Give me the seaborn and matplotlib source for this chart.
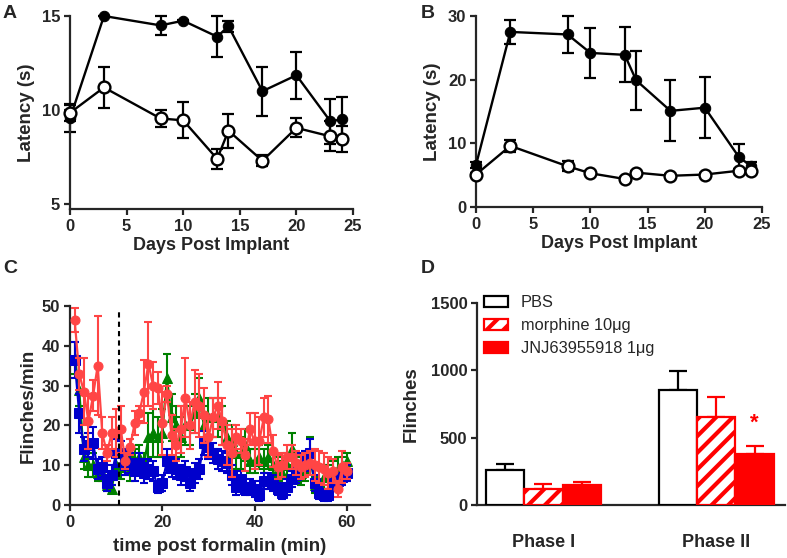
import numpy as np
import pandas as pd
import matplotlib
matplotlib.use("Agg")
import matplotlib.pyplot as plt
from matplotlib.patches import Patch
import seaborn as sns

# ---------------- data ----------------
days = [0, 3, 8, 10, 13, 14, 17, 20, 23, 24]

a_filled = [9.55, 15.0, 14.5, 14.75, 13.9, 14.45, 11.0, 11.85, 9.4, 9.5]
a_filled_sem = [0.7, 0.0, 0.5, 0.05, 1.1, 0.3, 1.3, 1.25, 1.2, 1.2]
a_open = [9.85, 11.2, 9.55, 9.45, 7.4, 8.9, 7.3, 9.05, 8.6, 8.45]
a_open_sem = [0.45, 1.1, 0.45, 0.95, 0.55, 0.9, 0.3, 0.5, 0.8, 0.7]

b_filled = [6.6, 27.5, 27.1, 24.2, 23.9, 19.9, 15.1, 15.6, 7.8, 6.5]
b_filled_sem = [0.5, 1.9, 2.9, 3.9, 4.3, 4.6, 4.8, 4.75, 2.1, 0.5]
b_open = [5.1, 9.6, 6.4, 5.3, 4.4, 5.4, 4.9, 5.1, 5.7, 5.6]
b_open_sem = [0.3, 0.9, 0.8, 0.3, 0.3, 0.3, 0.3, 0.3, 0.3, 0.3]

minutes = list(range(1, 61))
c_red = [46.5, 33, 28.5, 21, 27.5, 35, 18, 13, 18, 18,
         19, 11, 14.5, 20.5, 23, 28.5, 35.5, 30, 29.5, 20.5,
         28, 17.5, 15, 19, 27, 20, 26, 25, 22.5, 17,
         22, 25, 21, 15, 13, 17, 16, 12.5, 19, 16,
         16, 22, 21.5, 13.5, 9.5, 10, 12, 12, 10.5, 9.5,
         10, 10.5, 10, 9.5, 9, 8, 8.5, 4, 9.5, 8.5]
c_red_sem = [3, 4, 8.5, 7, 4, 12.5, 4, 2, 4, 6,
             6, 2, 2, 3, 2, 8, 10.5, 6, 4, 8,
             2, 5, 4, 6, 10, 6, 8, 8, 7, 5,
             5, 6, 6, 5, 6, 3, 3, 4, 4, 7,
             6, 5, 6, 4, 3, 3, 3, 3, 3, 3,
             3, 3, 4, 4, 4, 4, 3, 2, 4, 2]
c_blue = [36.5, 23, 14, 15, 15.5, 9, 9.5, 5.5, 7.5, 13,
          13, 10, 10.5, 8.5, 10.5, 8, 9, 8.5, 4.5, 5.5,
          11, 9.5, 9, 7.5, 8.5, 5.5, 8, 9, 15.5, 14.5,
          13, 11.5, 11, 10.5, 7.5, 4.5, 6.5, 4, 4.5, 4,
          2.5, 6, 6, 5.5, 4, 3, 4.5, 6.5, 7.5, 10,
          11, 13, 5.5, 3, 2.5, 2.5, 5.5, 6, 7, 8]
c_blue_sem = [4.5, 5, 3, 3, 4, 2.5, 2.5, 2, 2.5, 3.5,
              3, 2.5, 2.5, 2.5, 2.5, 2.5, 2.5, 2.5, 1.5, 2,
              3, 2.5, 2.5, 2.5, 2.5, 2, 2.5, 2.5, 3, 3,
              2.5, 2.5, 2.5, 2.5, 2.5, 2, 2, 1.5, 2, 2,
              1.5, 2, 2, 2, 1.5, 1.5, 2, 2, 2, 3,
              2.5, 3.5, 2, 1.5, 1.5, 1.5, 2, 2, 2, 2]
c_green = [37, 29, 12, 10, 10, 8, 8, 5, 4, 10,
           9.5, 10.5, 9, 11, 12, 10, 17, 18, 17, 18,
           32, 22, 20, 17, 20, 20, 23, 27, 20, 22,
           22, 22, 20, 17, 16, 13, 13, 15, 11, 11,
           12, 11, 12, 10, 9, 8, 10, 14, 9, 8,
           9, 13, 5, 4, 7, 7, 8, 9, 10, 11]
c_green_sem = [4, 4, 3, 3, 3, 2, 2, 1.5, 1, 3,
               3, 3, 3, 3, 3, 3, 6, 6, 5, 6,
               6, 6, 5, 5, 5, 5, 5, 5, 5, 5,
               5, 5, 5, 4, 4, 4, 4, 4, 3, 3,
               3, 3, 3, 3, 3, 3, 3, 4, 3, 3,
               3, 4, 2, 2, 3, 3, 3, 3, 2, 2]

phases = ["Phase I", "Phase II"]
treatments = ["PBS", "morphine 10\u03bcg", "JNJ63955918 1\u03bcg"]
d_means = {"PBS": [257, 851], "morphine 10\u03bcg": [118, 651], "JNJ63955918 1\u03bcg": [146, 380]}
d_sems = {"PBS": [49, 146], "morphine 10\u03bcg": [35, 148], "JNJ63955918 1\u03bcg": [24, 57]}

# ---------------- style ----------------
sns.set_style("ticks")
plt.rcParams["font.family"] = ["Liberation Sans", "DejaVu Sans"]
plt.rcParams["font.weight"] = "bold"
plt.rcParams["axes.labelweight"] = "bold"
plt.rcParams["axes.linewidth"] = 1.6
plt.rcParams["hatch.linewidth"] = 3.0

W, H = 787, 558
fig = plt.figure(figsize=(W / 100, H / 100), dpi=100)

TICK_FS = 12
LABEL_FS = 13.5


def axes_px(left, top, right, bottom):
    return fig.add_axes([left / W, 1 - bottom / H, (right - left) / W, (bottom - top) / H])


def style_ax(ax, fs=TICK_FS):
    sns.despine(ax=ax)
    ax.tick_params(labelsize=fs, width=1.6, length=4.5, pad=2.5)
    for lab in ax.get_xticklabels() + ax.get_yticklabels():
        lab.set_fontweight("bold")


def draw_pair(ax, x, filled, filled_sem, opn, opn_sem):
    ax.errorbar(x, filled, yerr=filled_sem, fmt="none", ecolor="black",
                elinewidth=1.6, capsize=4, capthick=1.6, zorder=2, clip_on=False)
    sns.lineplot(x=x, y=filled, ax=ax, color="black", linewidth=1.7, marker="o",
                 markersize=7.5, markeredgecolor="black", markerfacecolor="black",
                 zorder=3, clip_on=False)
    ax.errorbar(x, opn, yerr=opn_sem, fmt="none", ecolor="black",
                elinewidth=1.6, capsize=4, capthick=1.6, zorder=4, clip_on=False)
    sns.lineplot(x=x, y=opn, ax=ax, color="black", linewidth=1.7, marker="o",
                 markersize=8.5, markeredgecolor="black", markerfacecolor="white",
                 markeredgewidth=1.7, zorder=5, clip_on=False)


# ---------------- panel A ----------------
axA = axes_px(70, 16, 353, 209)
draw_pair(axA, days, a_filled, a_filled_sem, a_open, a_open_sem)
axA.set_xlim(0, 25)
axA.set_ylim(4.735, 15)
axA.set_yticks([5, 10, 15])
axA.set_xticks([0, 5, 10, 15, 20, 25])
axA.set_xlabel("Days Post Implant", fontsize=13, fontweight="bold", labelpad=2)
axA.set_ylabel("Latency (s)", fontsize=LABEL_FS, fontweight="bold", labelpad=5)
style_ax(axA)

# ---------------- panel B ----------------
axB = axes_px(476, 16, 762, 207)
draw_pair(axB, days, b_filled, b_filled_sem, b_open, b_open_sem)
axB.set_xlim(0, 25)
axB.set_ylim(0, 30)
axB.set_yticks([0, 10, 20, 30])
axB.set_xticks([0, 5, 10, 15, 20, 25])
axB.set_xlabel("Days Post Implant", fontsize=13, fontweight="bold", labelpad=2)
axB.set_ylabel("Latency (s)", fontsize=LABEL_FS, fontweight="bold", labelpad=5)
style_ax(axB)

# ---------------- panel C ----------------
axC = axes_px(70, 306, 370, 505)
series_c = [
    (c_green, c_green_sem, "#008000", "^"),
    (c_blue, c_blue_sem, "#0000CC", "s"),
    (c_red, c_red_sem, "#FF4545", "o"),
]
for i, (vals, sem, col, mk) in enumerate(series_c):
    axC.errorbar(minutes, vals, yerr=sem, fmt="none", ecolor=col,
                 elinewidth=1.5, capsize=3, capthick=1.5, zorder=2 + 2 * i)
    sns.lineplot(x=minutes, y=vals, ax=axC, color=col, linewidth=1.6, marker=mk,
                 markersize=6.5, markeredgecolor=col, markerfacecolor=col,
                 zorder=3 + 2 * i, clip_on=False)
axC.plot([10.6, 10.6], [0, 48.8], color="black", linestyle=(0, (2.5, 2)), linewidth=1.5, zorder=10)
axC.set_xlim(0, 65)
axC.set_ylim(0, 50)
axC.set_xticks([0, 20, 40, 60])
axC.set_yticks([0, 10, 20, 30, 40, 50])
axC.set_xlabel("time post formalin (min)", fontsize=LABEL_FS, fontweight="bold", labelpad=6)
axC.set_ylabel("Flinches/min", fontsize=LABEL_FS, fontweight="bold", labelpad=4)
style_ax(axC)

# ---------------- panel D ----------------
axD = axes_px(477, 303, 785, 505)
rows = []
for t in treatments:
    for p, m in zip(phases, d_means[t]):
        rows.append({"phase": p, "treatment": t, "flinches": m})
df = pd.DataFrame(rows)
sns.barplot(data=df, x="phase", y="flinches", hue="treatment", order=phases,
            hue_order=treatments, palette=["white", "white", "#FF0000"], saturation=1,
            width=0.667, errorbar=None, legend=False, ax=axD, zorder=3)
edge_cols = ["black", "#FF0000", "#FF0000"]
for t, cont, ec in zip(treatments, axD.containers, edge_cols):
    for j, bar in enumerate(cont):
        bar.set_edgecolor(ec)
        bar.set_linewidth(1.6)
        if t.startswith("morphine"):
            bar.set_hatch("//")
        xc = bar.get_x() + bar.get_width() / 2
        axD.errorbar([xc], [bar.get_height()], yerr=[[0], [d_sems[t][j]]], fmt="none",
                     ecolor=ec, elinewidth=1.6, capsize=6.5, capthick=1.6, zorder=2)
# significance star above JNJ Phase II
jbar = axD.containers[2][1]
axD.text(jbar.get_x() + jbar.get_width() / 2, 530, "*", color="#FF0000",
         ha="center", va="bottom", fontsize=16, fontweight="bold")
axD.set_xlim(-0.384, 1.398)
axD.set_ylim(0, 1500)
axD.set_yticks([0, 500, 1000, 1500])
axD.set_xlabel("")
axD.set_ylabel("Flinches", fontsize=LABEL_FS, fontweight="bold", labelpad=8)
style_ax(axD)
axD.tick_params(axis="x", length=0, pad=21, labelsize=13)
for lab in axD.get_xticklabels():
    lab.set_fontweight("bold")

handles = [
    Patch(facecolor="white", edgecolor="black", linewidth=1.6),
    Patch(facecolor="white", edgecolor="#FF0000", hatch="//", linewidth=1.6),
    Patch(facecolor="#FF0000", edgecolor="#FF0000", linewidth=1.6),
]
leg = fig.legend(handles, treatments, loc="upper left",
                 bbox_to_anchor=(484 / W, 1 - 295 / H), bbox_transform=fig.transFigure,
                 frameon=False, borderpad=0, borderaxespad=0,
                 handlelength=1.45, handleheight=0.7, handletextpad=0.8, labelspacing=0.5,
                 prop={"weight": "normal", "size": 11.8})

# ---------------- panel letters ----------------
for letter, (x, y) in {"A": (3, 5), "B": (421, 5), "C": (3, 260), "D": (421, 260)}.items():
    fig.text(x / W, 1 - y / H, letter, fontsize=14, fontweight="bold", ha="left", va="top")

fig.savefig("out.png", dpi=100)
